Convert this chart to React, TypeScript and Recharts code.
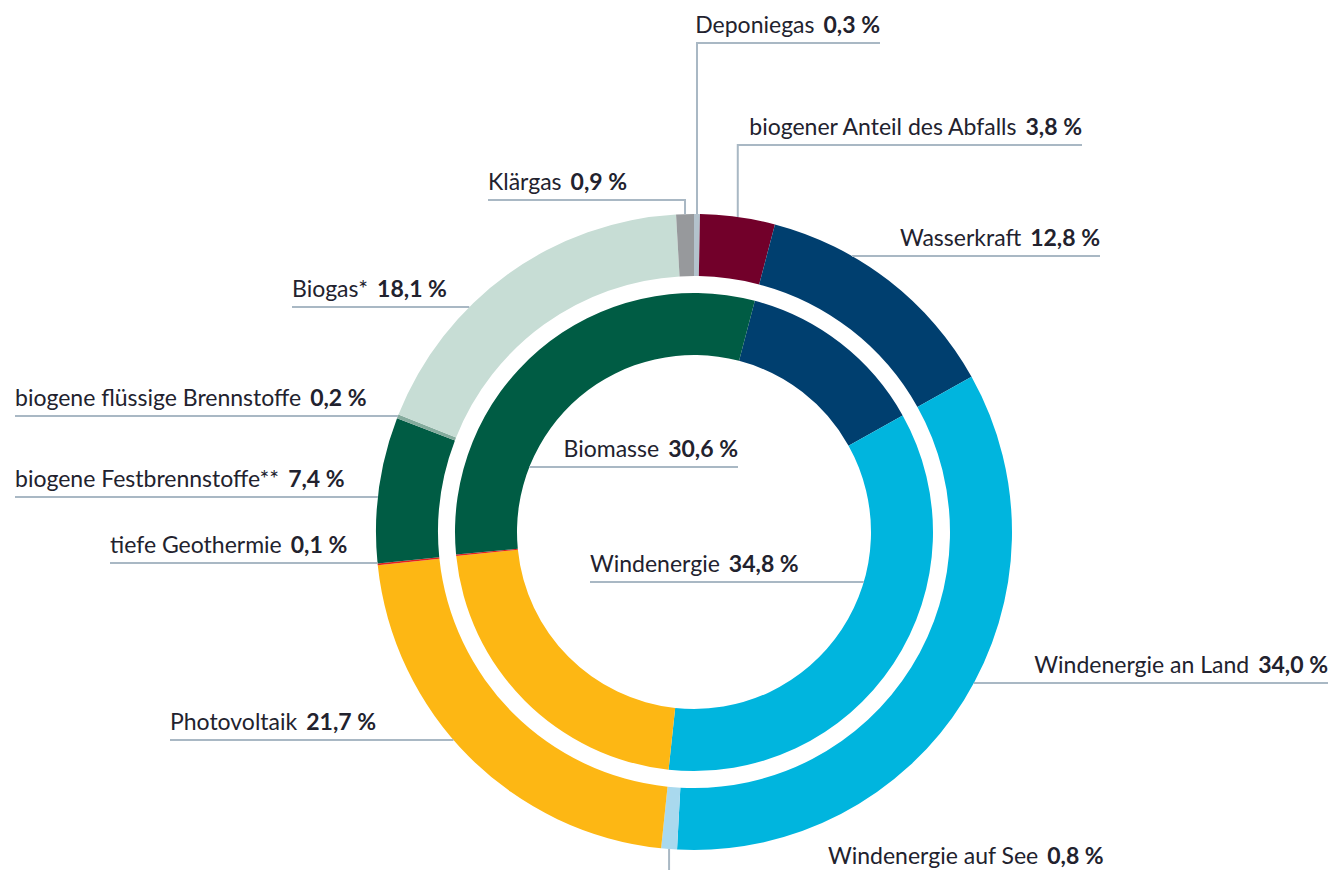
import { PieChart, Pie, Cell } from 'recharts'

// outer ring, clockwise from 12 o'clock
const outerNames = [
  'Deponiegas',
  'biogener Anteil des Abfalls',
  'Wasserkraft',
  'Windenergie an Land',
  'Windenergie auf See',
  'Photovoltaik',
  'tiefe Geothermie',
  'biogene Festbrennstoffe**',
  'biogene flüssige Brennstoffe',
  'Biogas*',
  'Klärgas',
]
const outerValues = [0.3, 3.8, 12.8, 34.0, 0.8, 21.7, 0.1, 7.4, 0.2, 18.1, 0.9]
const outerColors = [
  '#b3c2cc', '#72002a', '#003f6f', '#00b5de', '#a9d9ee', '#fdb714',
  '#e3211c', '#005c44', '#84ab9d', '#c7ddd5', '#97999c',
]

// inner ring, starts where Wasserkraft starts in the outer ring
const innerNames = ['Wasserkraft', 'Windenergie', 'Photovoltaik', 'tiefe Geothermie', 'Biomasse']
const innerValues = [12.8, 34.8, 21.7, 0.1, 30.6]
const innerColors = ['#003f6f', '#00b5de', '#fdb714', '#e3211c', '#005c44']

const outerData = outerNames.map((name, i) => ({ name, value: outerValues[i] }))
const innerData = innerNames.map((name, i) => ({ name, value: innerValues[i] }))

// label placement (annotation layout only)
type Lbl = { kind: 'h' | 'up' | 'down' | 'hole'; lineY: number; farX: number }
const outerLabels: Record<string, Lbl> = {
  'Deponiegas': { kind: 'up', lineY: 43, farX: 880 },
  'biogener Anteil des Abfalls': { kind: 'up', lineY: 145, farX: 1082 },
  'Wasserkraft': { kind: 'h', lineY: 256, farX: 1100 },
  'Windenergie an Land': { kind: 'h', lineY: 683, farX: 1328 },
  'Windenergie auf See': { kind: 'down', lineY: 864, farX: 828 },
  'Photovoltaik': { kind: 'h', lineY: 740, farX: 170 },
  'tiefe Geothermie': { kind: 'h', lineY: 563, farX: 110 },
  'biogene Festbrennstoffe**': { kind: 'h', lineY: 497, farX: 15 },
  'biogene flüssige Brennstoffe': { kind: 'h', lineY: 416, farX: 15 },
  'Biogas*': { kind: 'h', lineY: 307, farX: 292 },
  'Klärgas': { kind: 'up', lineY: 200, farX: 488 },
}
const innerLabels: Record<string, Lbl> = {
  'Biomasse': { kind: 'hole', lineY: 467, farX: 738 },
  'Windenergie': { kind: 'hole', lineY: 582, farX: 590 },
}

const RAD = Math.PI / 180
const LINE = '#a9b8c4'
const TEXT = '#22222e'
const fmt = (v: number) => v.toFixed(1).replace('.', ',') + ' %'

const total = outerValues.reduce((a, b) => a + b, 0)
const innerStart = 90 - ((outerValues[0] + outerValues[1]) / total) * 360

function makeLabel(table: Record<string, Lbl>) {
  return (p: any) => {
    const name = p.payload?.name ?? p.name
    const cfg = table[name]
    if (!cfg) return null
    const { cx, cy, midAngle, innerRadius, outerRadius } = p
    const side = cfg.farX > cx ? 1 : -1
    let path = ''
    let ty = cfg.lineY - 10
    let anchor: 'start' | 'end' = side > 0 ? 'end' : 'start'
    if (cfg.kind === 'h') {
      const dy = cfg.lineY - cy
      const nearX = cx + side * Math.sqrt(outerRadius * outerRadius - dy * dy)
      path = `M${nearX},${cfg.lineY}L${cfg.farX},${cfg.lineY}`
    } else if (cfg.kind === 'hole') {
      const dy = cfg.lineY - cy
      const nearX = cx - side * Math.sqrt(innerRadius * innerRadius - dy * dy)
      path = `M${nearX},${cfg.lineY}L${cfg.farX},${cfg.lineY}`
    } else {
      const x0 = cx + outerRadius * Math.cos(-midAngle * RAD)
      const y0 = cy + outerRadius * Math.sin(-midAngle * RAD)
      if (cfg.kind === 'up') {
        path = `M${x0},${y0}L${x0},${cfg.lineY}L${cfg.farX},${cfg.lineY}`
      } else {
        path = `M${x0},${y0}L${x0},880`
        ty = cfg.lineY
        anchor = 'start'
      }
    }
    return (
      <g>
        <path d={path} stroke={LINE} strokeWidth={2} fill="none" />
        <text x={cfg.farX} y={ty} textAnchor={anchor} fill={TEXT} fontSize={23} fontFamily="Lato, sans-serif">
          <tspan>{name}</tspan>
          <tspan fontWeight="bold" dx={9}>{fmt(p.value)}</tspan>
        </text>
      </g>
    )
  }
}

export default function App() {
  return (
    <div style={{ position: 'absolute', left: 0, top: 0, width: 1330, height: 870, background: '#fff' }}>
      <PieChart width={1330} height={870}>
        <Pie
          data={innerData}
          dataKey="value"
          cx={689}
          cy={527}
          innerRadius={177}
          outerRadius={239}
          startAngle={innerStart}
          endAngle={innerStart - 360}
          stroke="none"
          label={makeLabel(innerLabels)}
          labelLine={false}
          isAnimationActive={false}
        >
          {innerData.map((d, i) => (
            <Cell key={d.name} fill={innerColors[i]} />
          ))}
        </Pie>
        <Pie
          data={outerData}
          dataKey="value"
          cx={689}
          cy={527}
          innerRadius={256}
          outerRadius={318}
          startAngle={90}
          endAngle={-270}
          stroke="none"
          label={makeLabel(outerLabels)}
          labelLine={false}
          isAnimationActive={false}
        >
          {outerData.map((d, i) => (
            <Cell key={d.name} fill={outerColors[i]} />
          ))}
        </Pie>
      </PieChart>
    </div>
  )
}
